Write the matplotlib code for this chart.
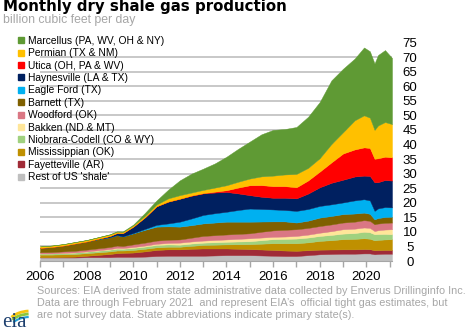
import matplotlib
matplotlib.use("Agg")
import matplotlib.pyplot as plt
from matplotlib.lines import Line2D
from matplotlib.patches import Arc

plt.rcParams['font.family'] = ['Liberation Sans', 'DejaVu Sans']

# decimal years of the sampled points
dates = [2006.0, 2006.5, 2007.0, 2007.5, 2008.0, 2008.5, 2009.0, 2009.3, 2009.55,
         2010.0, 2010.5, 2011.0, 2011.5, 2012.0, 2012.5, 2013.0, 2013.5, 2014.0,
         2014.5, 2015.0, 2015.5, 2016.0, 2016.5, 2017.0, 2017.5, 2018.0, 2018.5,
         2019.0, 2019.5, 2019.9, 2020.15, 2020.35, 2020.5, 2020.8, 2021.1]

# billion cubic feet per day, bottom layer first
rest = [1.2, 1.2, 1.2, 1.2, 1.3, 1.3, 1.3, 1.4, 1.4, 1.4, 1.5, 1.7, 1.8, 1.8, 1.8, 1.8, 1.9, 2.0,
        2.0, 2.0, 1.9, 1.8, 1.7, 1.7, 2.0, 2.3, 2.4, 2.5, 2.5, 2.6, 2.6, 2.3, 2.4, 2.5, 2.5]
fayetteville = [0.1, 0.1, 0.2, 0.3, 0.5, 0.8, 1.1, 1.3, 1.4, 1.5, 1.8, 2.1, 2.2, 2.2, 2.4, 2.5, 2.4, 2.3,
                2.2, 2.1, 2.05, 2.0, 1.9, 1.8, 1.7, 1.6, 1.55, 1.5, 1.5, 1.5, 1.45, 1.4, 1.35, 1.3, 1.3]
mississippian = [0.9, 0.9, 0.9, 0.9, 0.9, 0.9, 0.9, 0.9, 0.8, 0.9, 0.9, 0.9, 0.9, 0.9, 1.0, 1.2, 1.3, 1.4,
                 1.55, 1.7, 2.0, 2.3, 2.5, 2.6, 2.7, 3.0, 3.2, 3.5, 3.6, 3.7, 3.6, 3.4, 3.5, 3.6, 3.7]
niobrara = [0.4, 0.4, 0.45, 0.5, 0.5, 0.55, 0.6, 0.65, 0.6, 0.7, 0.75, 0.8, 0.8, 0.7, 0.8, 0.8, 0.85, 0.9,
            0.95, 1.0, 1.2, 1.4, 1.5, 1.6, 1.65, 1.7, 1.8, 1.9, 2.0, 2.2, 2.2, 2.1, 2.0, 1.9, 1.7]
bakken = [0.0, 0.0, 0.05, 0.05, 0.1, 0.15, 0.2, 0.25, 0.25, 0.3, 0.35, 0.4, 0.5, 0.7, 0.7, 0.7, 0.75, 0.8,
          0.9, 1.0, 0.9, 0.8, 0.8, 0.9, 1.0, 1.1, 1.3, 1.5, 1.5, 1.5, 1.5, 1.1, 1.3, 1.5, 1.7]
woodford = [0.4, 0.45, 0.5, 0.55, 0.6, 0.65, 0.7, 0.8, 0.7, 0.9, 1.0, 1.1, 1.1, 1.1, 1.3, 1.6, 1.65, 1.7,
            1.7, 1.7, 2.0, 2.2, 2.3, 2.3, 2.3, 2.3, 2.3, 2.3, 2.4, 2.5, 2.45, 2.3, 2.3, 2.3, 2.3]
barnett = [1.5, 1.75, 2.0, 2.5, 2.8, 3.2, 3.4, 3.6, 3.3, 3.8, 4.4, 4.8, 4.6, 4.4, 4.3, 4.3, 4.35, 4.4,
           4.2, 4.0, 3.5, 3.1, 2.9, 2.3, 2.5, 2.9, 2.9, 2.9, 2.8, 2.6, 2.4, 1.7, 1.9, 2.0, 2.0]
eagle_ford = [0.0, 0.0, 0.0, 0.0, 0.0, 0.0, 0.0, 0.0, 0.0, 0.1, 0.3, 0.6, 1.0, 1.7, 2.3, 2.9, 3.2, 3.4,
              4.0, 4.5, 4.3, 4.1, 3.9, 4.0, 4.0, 4.0, 4.0, 4.0, 4.5, 4.6, 4.6, 2.9, 3.3, 3.4, 3.2]
haynesville = [0.0, 0.0, 0.0, 0.0, 0.0, 0.1, 0.4, 0.7, 1.1, 2.2, 4.0, 6.4, 7.5, 7.9, 7.8, 7.4, 7.1, 6.8,
               5.7, 4.6, 4.2, 4.0, 4.2, 4.3, 5.3, 6.4, 7.4, 7.8, 8.2, 8.1, 8.4, 9.8, 9.0, 9.3, 9.2]
utica = [0.0, 0.0, 0.0, 0.0, 0.0, 0.0, 0.0, 0.0, 0.0, 0.0, 0.0, 0.0, 0.0, 0.0, 0.1, 0.1, 0.3, 0.6,
         2.0, 3.4, 4.0, 4.0, 4.0, 3.8, 4.5, 5.4, 7.0, 9.0, 9.3, 9.7, 9.6, 8.1, 8.2, 8.0, 8.0]
permian = [0.5, 0.5, 0.5, 0.5, 0.5, 0.5, 0.5, 0.45, 0.4, 0.4, 0.5, 0.6, 1.1, 1.2, 1.0, 1.1, 1.4, 1.7,
           2.0, 2.3, 3.0, 3.6, 4.0, 4.6, 4.3, 4.6, 6.3, 7.3, 10.0, 11.0, 10.4, 9.9, 11.25, 11.9, 11.4]
marcellus = [0.0, 0.0, 0.0, 0.0, 0.0, 0.05, 0.1, 0.15, 0.2, 0.3, 1.0, 1.4, 3.0, 5.1, 6.5, 7.3, 8.3, 9.8,
             11.3, 12.7, 14.45, 15.7, 15.6, 16.1, 17.55, 19.3, 21.85, 21.8, 21.2, 23.3, 22.8, 22.8, 24.2, 24.7, 22.7]

layers = [rest, fayetteville, mississippian, niobrara, bakken, woodford,
          barnett, eagle_ford, haynesville, utica, permian, marcellus]
names = ["Rest of US 'shale'", "Fayetteville (AR)", "Mississippian (OK)",
         "Niobrara-Codell (CO & WY)", "Bakken (ND & MT)", "Woodford (OK)",
         "Barnett (TX)", "Eagle Ford (TX)", "Haynesville (LA & TX)",
         "Utica (OH, PA & WV)", "Permian (TX & NM)", "Marcellus (PA, WV, OH & NY)"]
colors = ["#bfbfbf", "#a02b37", "#bf9000", "#a0d17f", "#ffe699", "#da7784",
          "#7f6000", "#00b0f0", "#002060", "#ff0000", "#ffc000", "#5f9a34"]

fig = plt.figure(figsize=(4.68, 3.31), dpi=100)
ax = fig.add_axes([40 / 468, 70 / 331, 352 / 468, 218.5 / 331])
ax.stackplot(dates, layers, colors=colors, linewidth=0.3, edgecolor='face')

ax.set_xlim(2006, 2021.1)
ax.set_ylim(0, 75)
ax.set_axisbelow(True)
ax.yaxis.grid(True, color='#bfbfbf', lw=1.2)
ax.yaxis.tick_right()
ax.set_yticks(range(0, 80, 5))
ax.tick_params(axis='y', length=0, pad=13, labelsize=9.5)
for t in ax.get_yticklabels():
    t.set_ha('center')

years = list(range(2006, 2022))
ax.set_xticks(years)
ax.set_xticklabels([str(y) if y % 2 == 0 and y <= 2020 else '' for y in years])
ax.tick_params(axis='x', length=4, width=1, color='#a6a6a6', labelsize=9.5, pad=3)

for s in ['top', 'left', 'right']:
    ax.spines[s].set_visible(False)
ax.spines['bottom'].set_color('#a6a6a6')

handles = [Line2D([], [], marker='s', ls='', color=c, markersize=4.5) for c in colors[::-1]]
fig.legend(handles, names[::-1], loc='upper left', bbox_to_anchor=(0.038, 0.892),
           frameon=False, fontsize=7.4, handlelength=0.7, handletextpad=0.25,
           labelspacing=0.235, borderpad=0, borderaxespad=0)

fig.text(0.006, 1 - 11.5 / 331, 'Monthly dry shale gas production', fontsize=10.8,
         fontweight='bold', family='DejaVu Sans', va='baseline', ha='left')
fig.text(0.006, 1 - 23.5 / 331, 'billion cubic feet per day', fontsize=8.8, color='#a6a6a6',
         va='baseline', ha='left')

src = ("Sources: EIA derived from state administrative data collected by Enverus Drillinginfo Inc.\n"
       "Data are through February 2021  and represent EIA\u2019s  official tight gas estimates, but\n"
       "are not survey data. State abbreviations indicate primary state(s).")
fig.text(37 / 468, 1 - 286 / 331, src, fontsize=7.8, color='#a6a6a6', va='top', ha='left',
         linespacing=1.22)

# eia logo
lax = fig.add_axes([0, 0, 40 / 468, 35 / 331])
lax.set_xlim(0, 40)
lax.set_ylim(0, 35)
lax.axis('off')
lax.add_patch(Arc((30, 3), 48, 34, theta1=95, theta2=150, color='#f6c40f', lw=2))
lax.add_patch(Arc((30, 1), 46, 32, theta1=95, theta2=150, color='#8cc63f', lw=2))
lax.add_patch(Arc((30, -1), 44, 30, theta1=95, theta2=150, color='#1fa0d8', lw=1.5))
lax.text(2, 4, 'eia', family=['Liberation Serif', 'DejaVu Serif'], fontsize=15,
         color='#1d3f6e', va='baseline', ha='left')

fig.savefig('out.png', dpi=100)
